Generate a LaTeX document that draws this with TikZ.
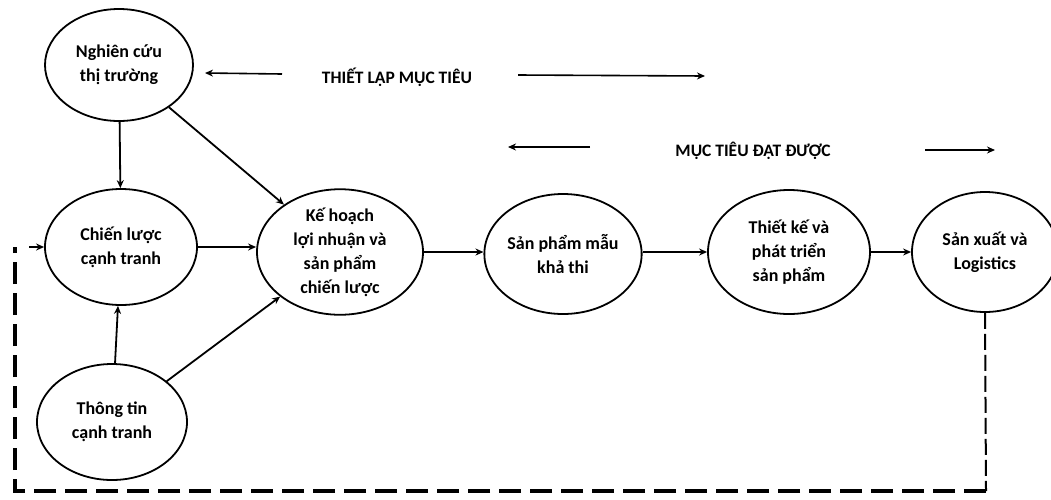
\documentclass[tikz,border=0pt]{standalone}
\usepackage{fontspec}
\setmainfont{Carlito}
\usetikzlibrary{shapes.geometric,arrows.meta}
\tikzset{
  stage/.style={ellipse, draw, line width=1.8pt, inner sep=0pt, align=center,
    font=\bfseries\fontsize{18}{24}\selectfont},
  flow/.style={line width=1.8pt, -{Stealth[length=8pt,width=7pt]}},
  banner/.style={font=\bfseries\fontsize{17.5}{20}\selectfont},
  feedback/.style={line width=3.2pt, dash pattern=on 22pt off 9pt},
  feedbackthin/.style={line width=2pt, dash pattern=on 16pt off 5pt}
}
\begin{document}
\begin{tikzpicture}[x=1pt,y=-1pt]
\useasboundingbox (0,0) rectangle (1051,499);
\fill[white] (0,0) rectangle (1051,499);

% stages
\node[stage, minimum width=148pt, minimum height=112pt] (NC) at (119,65) {Nghiên cứu\\thị trường};
\node[stage, minimum width=152pt, minimum height=116pt] (CL) at (121,247) {Chiến lược\\cạnh tranh};
\node[stage, minimum width=150pt, minimum height=116pt] (TT) at (112,422) {Thông tin\\cạnh tranh};
\node[stage, minimum width=166pt, minimum height=124pt] (KH) at (340,252) {Kế hoạch\\lợi nhuận và\\sản phẩm\\chiến lược};
\node[stage, minimum width=154pt, minimum height=120pt] (SP) at (563,254) {Sản phẩm mẫu\\khả thi};
\node[stage, minimum width=162pt, minimum height=124pt] (TK) at (789,252) {Thiết kế và\\phát triển\\sản phẩm};
\node[stage, minimum width=146pt, minimum height=120pt] (SX) at (985,252) {Sản xuất và\\Logistics};

% connections
\draw[flow] (NC) -- (CL);
\draw[flow] (NC) -- (KH);
\draw[flow] (TT) -- (CL);
\draw[flow] (TT) -- (KH);
\draw[flow] (CL.east) -- (CL.east -| KH.west);
\draw[flow] (KH.east) -- (KH.east -| SP.west);
\draw[flow] (SP.east |- TK.west) -- (TK.west);
\draw[flow] (TK.east) -- (SX.west);

% feedback loop
\coordinate (fbR) at (986,491);
\coordinate (fbL) at (15,491);
\coordinate (fbT) at (15,247);
\draw[feedbackthin] (SX.south) -- (fbR);
\draw[feedback] (fbR) -- (fbL) -- (fbT);
\draw[flow] (fbT) ++(14,0) coordinate (fbA) (fbA) -- (CL.west);

% banners
\node[banner] (goalset) at (397,77) {THIẾT LẬP MỤC TIÊU};
\coordinate (gsL1) at (282,74);
\coordinate (gsL2) at (205,73);
\coordinate (gsR1) at (518,75);
\coordinate (gsR2) at (705,76);
\draw[flow, line width=1.6pt] (gsL1) -- (gsL2);
\draw[flow, line width=1.6pt] (gsR1) -- (gsR2);

\node[banner] (goalmet) at (753,151) {MỤC TIÊU ĐẠT ĐƯỢC};
\coordinate (gmL1) at (590,147);
\coordinate (gmL2) at (508,147);
\coordinate (gmR1) at (925,150);
\coordinate (gmR2) at (995,150);
\draw[flow, line width=1.6pt] (gmL1) -- (gmL2);
\draw[flow, line width=1.6pt] (gmR1) -- (gmR2);
\end{tikzpicture}
\end{document}
